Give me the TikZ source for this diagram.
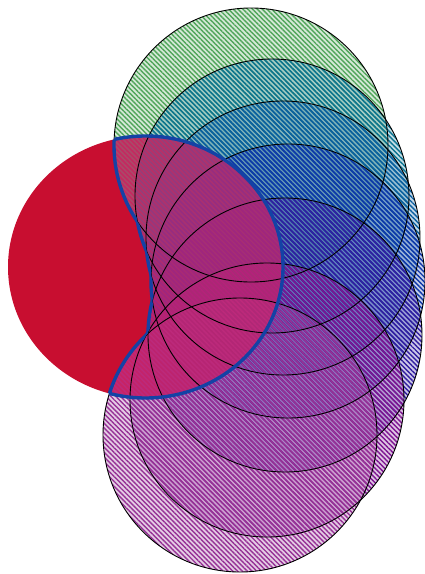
\documentclass[tikz,border=0pt]{standalone}
\usepackage{tikz}
\usepackage{xcolor}
\usetikzlibrary{patterns,patterns.meta}

\definecolor{discred}{RGB}{200,14,48}
\definecolor{rimblue}{RGB}{20,66,165}
\definecolor{overlap}{RGB}{205,40,112}
\definecolor{ringA}{RGB}{80,165,90}
\definecolor{ringB}{RGB}{10,115,145}
\definecolor{ringC}{RGB}{10,95,160}
\definecolor{ringD}{RGB}{15,55,170}
\definecolor{ringE}{RGB}{50,30,160}
\definecolor{ringF}{RGB}{125,20,145}
\definecolor{ringG}{RGB}{150,50,150}

\begin{document}
\begin{tikzpicture}[x=1pt,y=-1pt]
    \newdimen\rad
    \rad = 137pt
    \def\rings{1/251/145/ringA, 2/272/196/ringB, 3/283/238/ringC, 4/288/281/ringD, 5/285/335/ringE, 6/267/400/ringF, 7/240/435/ringG}
    \fill[white] (0,0) rectangle (424,574);
    \useasboundingbox (0,0) rectangle (424,574);
    % red disc
    \fill[discred] (145.5,267) ellipse (137.5pt and 131pt);
    % hatched circles
    \foreach \i/\cx/\cy/\col in \rings {
        \fill[\col, fill opacity=0.24] (\cx,\cy) circle (\rad);
        \fill[pattern={Lines[angle=-45, distance=3.4pt, line width=1.4pt]}, pattern color=\col, fill opacity=0.62] (\cx,\cy) circle (\rad);
    }
    % tint where disc and circles meet
    \begin{scope}
        \clip (145.5,267) ellipse (137.5pt and 131pt);
        \fill[overlap, fill opacity=0.72] (251,145) circle (\rad) (272,196) circle (\rad) (283,238) circle (\rad)
            (288,281) circle (\rad) (285,335) circle (\rad) (267,400) circle (\rad) (240,435) circle (\rad);
    \end{scope}
    \foreach \i/\cx/\cy/\col in \rings { \draw[black, line width=0.9pt] (\cx,\cy) circle (\rad); }
    % blue rim
    \begin{scope}
        \clip (251,145) circle (\rad) (272,196) circle (\rad) (283,238) circle (\rad)
            (288,281) circle (\rad) (285,335) circle (\rad) (267,400) circle (\rad) (240,435) circle (\rad);
        \draw[rimblue, line width=3.4pt] (145.5,267) ellipse (137.5pt and 131pt);
    \end{scope}
    \foreach \i/\ax/\ay/\col in \rings {
        \begin{scope}[even odd rule]
            \clip (145.5,267) ellipse (137.5pt and 131pt);
            \foreach \j/\bx/\by/\cc in \rings {
                \ifnum\i=\j\else
                    \clip (-10,-10) rectangle (434,584) (\bx,\by) circle (\rad);
                \fi
            }
            \draw[rimblue, line width=3.4pt] (\ax,\ay) circle (\rad);
        \end{scope}
    }
\end{tikzpicture}
\end{document}
